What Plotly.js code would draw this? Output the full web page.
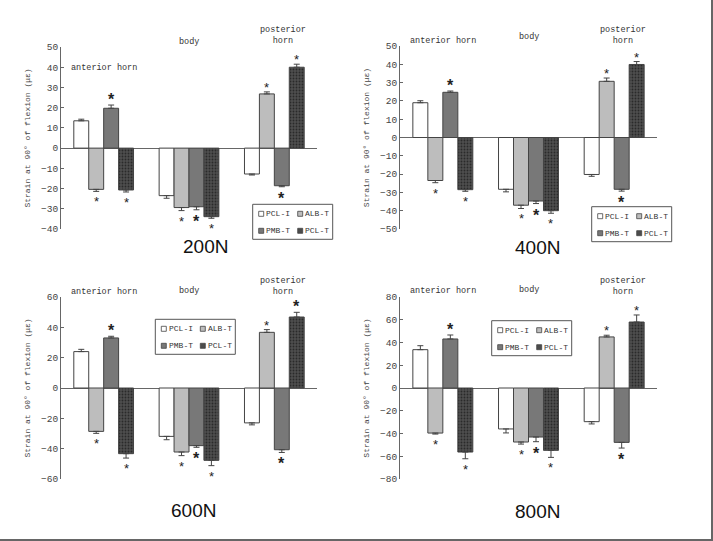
<!DOCTYPE html>
<html>
<head>
<meta charset="utf-8">
<script src="https://cdn.plot.ly/plotly-3.0.1.min.js"></script>
<style>html,body{margin:0;padding:0;background:#fff;}#chart{width:713px;height:541px;}</style>
</head>
<body>
<div id="chart"></div>
<script>
// ---- data ----
const regions = ["anterior horn", "body", "posterior horn"];
const groups = ["PCL-I", "ALB-T", "PMB-T", "PCL-T"];
const loads = ["200N", "400N", "600N", "800N"];

// values per load: [group][region]
const v200 = [[13.5, -23.5, -12.8], [-20.4, -29.4, 26.8], [19.7, -29.0, -18.6], [-20.7, -33.9, 40.0]];
const e200 = [[0.8, 1.3, 0.5], [1.0, 1.5, 1.0], [1.6, 1.5, 0.5], [1.0, 0.8, 1.5]];
const v400 = [[19.0, -28.3, -20.2], [-23.5, -37.0, 30.7], [24.7, -34.7, -28.3], [-28.5, -40.0, 39.9]];
const e400 = [[1.1, 1.4, 1.0], [1.2, 1.8, 1.8], [0.7, 1.4, 1.0], [0.9, 1.4, 1.6]];
const v600 = [[24.0, -31.9, -23.0], [-28.6, -42.2, 36.7], [33.0, -38.0, -40.7], [-43.3, -47.7, 46.8]];
const e600 = [[1.5, 2.2, 1.3], [1.3, 2.4, 1.8], [1.1, 1.1, 1.8], [2.9, 3.5, 3.1]];
const v800 = [[33.7, -36.0, -29.6], [-39.6, -47.5, 44.9], [43.1, -43.1, -47.8], [-56.3, -54.8, 58.0]];
const e800 = [[3.5, 3.5, 2.0], [0.9, 1.8, 1.5], [3.5, 4.1, 5.0], [5.9, 6.2, 6.2]];
// significance markers: 0 none, 1 normal asterisk, 2 bold asterisk  [group][region]
const sig200 = [[0, 0, 0], [1, 1, 1], [2, 2, 2], [1, 1, 1]];
const sig400 = [[0, 0, 0], [1, 1, 1], [2, 2, 2], [1, 1, 1]];
const sig600 = [[0, 0, 0], [1, 1, 1], [2, 2, 2], [1, 1, 2]];
const sig800 = [[0, 0, 0], [1, 1, 1], [2, 2, 2], [1, 1, 1]];
const yRanges = [[-40, 50], [-50, 50], [-60, 60], [-80, 80]];
const yDtick = [10, 10, 20, 20];

// ---- styling / layout ----
const W = 713, H = 541;
const mono = "Liberation Mono, DejaVu Sans Mono, monospace";
const axisCol = "#666";
const fills = ["#ffffff", "#bdbdbd", "#787878", "#4c4c4c"];
const panels = [
  {v: v200, e: e200, s: sig200, x: [61, 317], y: [47, 229], leg: [252.7, 204.3]},
  {v: v400, e: e400, s: sig400, x: [400, 657], y: [46, 229], leg: [591.7, 206.7]},
  {v: v600, e: e600, s: sig600, x: [61, 317], y: [297, 479], leg: [155.3, 319.3]},
  {v: v800, e: e800, s: sig800, x: [400, 657], y: [297, 479], leg: [491.7, 320.7]}
];
const regionLabelY = [[68, 42, [30, 42]], [41, 37, [30, 42]], [292, 291, [281, 292]], [291, 290, [281, 292]]];
const titlePos = [[205, 246], [537, 247], [193, 510], [537, 511]];
const legW = 80, legH = 35;
const bargap = 0.3;

const px = x => x / W;
const py = y => 1 - y / H;

const traces = [];
const annotations = [];
const shapes = [
  {type: "line", xref: "paper", yref: "paper", x0: px(712), x1: px(712), y0: 0, y1: 1, line: {color: "#666", width: 2}},
  {type: "line", xref: "paper", yref: "paper", x0: 0, x1: 1, y0: py(540), y1: py(540), line: {color: "#666", width: 2}}
];
const layout = {
  width: W, height: H,
  margin: {l: 0, r: 0, t: 0, b: 0},
  paper_bgcolor: "#fff", plot_bgcolor: "rgba(0,0,0,0)",
  barmode: "group", bargap: bargap, bargroupgap: 0,
  font: {family: mono, size: 10, color: "#333"},
  showlegend: false
};

const barW = (1 - bargap) / groups.length;
const labFont = {family: mono, size: 8.5, color: "#333"};

panels.forEach((p, k) => {
  const sfx = k === 0 ? "" : String(k + 1);
  const xa = "x" + sfx, ya = "y" + sfx;
  layout["xaxis" + sfx] = {
    domain: [px(p.x[0]), px(p.x[1])], anchor: ya, type: "category",
    range: [-0.5, 2.5], showticklabels: false, showgrid: false, showline: false, ticks: "", zeroline: false
  };
  layout["yaxis" + sfx] = {
    domain: [py(p.y[1]), py(p.y[0])], anchor: xa, range: yRanges[k], dtick: yDtick[k], tick0: 0,
    showline: true, linecolor: axisCol, linewidth: 1, ticks: "inside", ticklen: 3, tickcolor: axisCol,
    showgrid: false, zeroline: true, zerolinecolor: axisCol, zerolinewidth: 1,
    tickfont: {family: mono, size: 9.5, color: "#444"},
    title: {text: "Strain at 90° of flexion (με)", font: {family: mono, size: 8, color: "#444"}, standoff: 9}
  };
  groups.forEach((g, i) => {
    const vals = p.v[i], errs = p.e[i];
    const tr = {
      type: "bar", name: g, x: regions, y: vals, xaxis: xa, yaxis: ya, showlegend: false,
      marker: {color: fills[i], line: {color: "#444", width: 1}},
      error_y: {type: "data", symmetric: false,
        array: vals.map((v, j) => v >= 0 ? errs[j] : 0),
        arrayminus: vals.map((v, j) => v < 0 ? errs[j] : 0),
        color: "#444", thickness: 1, width: 3},
      hoverinfo: "skip"
    };
    if (i === 3) {
      tr.marker.pattern = {shape: ".", fgcolor: "#2a2a2a", bgcolor: "#4e4e4e", size: 3, solidity: 0.3, fillmode: "replace"};
    }
    traces.push(tr);
    // significance asterisks
    vals.forEach((v, j) => {
      const s = p.s[i][j];
      if (!s) return;
      const pos = v >= 0;
      annotations.push({
        xref: xa, yref: ya, x: j + (i - 1.5) * barW, y: v + (pos ? errs[j] : -errs[j]),
        text: s === 2 ? "<b>*</b>" : "*", showarrow: false, xanchor: "center",
        yanchor: pos ? "bottom" : "top", yshift: pos ? -5 : -1,
        font: {family: "Liberation Sans, Arial, sans-serif", size: s === 2 ? 16 : 13, color: "#222"}
      });
    });
  });
  // legend box (drawn per panel, 2 x 2 entries)
  const L = p.leg[0], T = p.leg[1];
  shapes.push({type: "rect", xref: "paper", yref: "paper", x0: px(L), x1: px(L + legW), y0: py(T + legH), y1: py(T),
    line: {color: "#555", width: 1}, fillcolor: "#fff", layer: "above"});
  groups.forEach((g, i) => {
    const cx = L + (i % 2 === 0 ? 8.5 : 47.5), cy = T + (i < 2 ? 9.5 : 26.5);
    shapes.push({type: "rect", xref: "paper", yref: "paper", x0: px(cx - 2.5), x1: px(cx + 2.5), y0: py(cy + 2.5), y1: py(cy - 2.5),
      line: {color: "#444", width: 0.8}, fillcolor: fills[i], layer: "above"});
    annotations.push({xref: "paper", yref: "paper", x: px(cx + 3), y: py(cy), text: g, showarrow: false,
      xanchor: "left", yanchor: "middle", font: {family: mono, size: 8, color: "#333"}});
  });
  // region labels
  const rl = regionLabelY[k];
  annotations.push({xref: xa, yref: "paper", x: 0, y: py(rl[0]), text: regions[0], showarrow: false, yanchor: "middle", font: labFont});
  annotations.push({xref: xa, yref: "paper", x: 1, y: py(rl[1]), text: regions[1], showarrow: false, yanchor: "middle", font: labFont});
  annotations.push({xref: xa, yref: "paper", x: 2.1, y: py((rl[2][0] + rl[2][1]) / 2), text: "posterior<br>horn", showarrow: false, yanchor: "middle", font: labFont});
  // panel title
  annotations.push({xref: "paper", yref: "paper", x: px(titlePos[k][0]), y: py(titlePos[k][1]), text: loads[k], showarrow: false,
    xanchor: "center", yanchor: "middle", font: {family: "Liberation Sans, Arial, sans-serif", size: 19, color: "#111"}});
});

layout.annotations = annotations;
layout.shapes = shapes;
Plotly.newPlot("chart", traces, layout, {displayModeBar: false, staticPlot: true});
</script>
</body>
</html>
